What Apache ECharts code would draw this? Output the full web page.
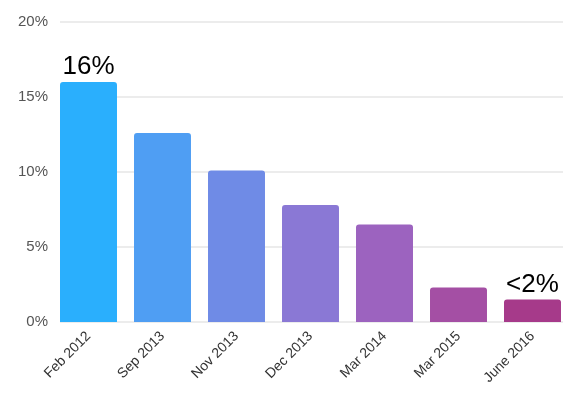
<!DOCTYPE html>
<html>
<head>
<meta charset="utf-8">
<script src="https://cdn.jsdelivr.net/npm/echarts@6/dist/echarts.min.js"></script>
<style>
  html, body { margin: 0; padding: 0; background: #fff; }
  #chart { width: 579px; height: 397px; }
</style>
</head>
<body>
<div id="chart"></div>
<script>
const categories = ['Feb 2012', 'Sep 2013', 'Nov 2013', 'Dec 2013', 'Mar 2014', 'Mar 2015', 'June 2016']
const shares = [16.0, 12.6, 10.1, 7.8, 6.5, 2.3, 1.5]
const barLabels = ['16%', '', '', '', '', '', '<2%']
const barColors = ['#2AAFFD', '#4F9EF3', '#6F8BE6', '#8A78D5', '#9C63BF', '#A44FA4', '#A63A8A']
const yTicks = [0, 5, 10, 15, 20]

const font = '"Liberation Sans", Arial, sans-serif'
const chart = echarts.init(document.getElementById('chart'))

const option = {
  animation: false,
  textStyle: { fontFamily: font },
  // grid 0: gridlines + y labels; grid 1: bars, edge to edge
  grid: [
    { left: 60, right: 16, top: 22, bottom: 75 },
    { left: 51.5, right: 9.5, top: 22, bottom: 75 }
  ],
  xAxis: [
    { type: 'category', gridIndex: 0, data: categories, show: false },
    {
      type: 'category',
      gridIndex: 1,
      data: categories,
      axisLine: { show: false },
      axisTick: { show: false },
      axisLabel: {
        rotate: 45,
        fontFamily: font,
        fontSize: 14,
        color: '#333',
        margin: 12,
        interval: 0
      }
    }
  ],
  yAxis: [
    {
      type: 'value',
      gridIndex: 0,
      min: yTicks[0],
      max: yTicks[yTicks.length - 1],
      interval: 5,
      axisLine: { show: false },
      axisTick: { show: false },
      axisLabel: {
        fontFamily: font,
        fontSize: 15,
        color: '#555',
        margin: 12,
        formatter: '{value}%'
      },
      splitLine: { lineStyle: { color: '#e6e6e6', width: 1.5 } }
    },
    {
      type: 'value',
      gridIndex: 1,
      min: yTicks[0],
      max: yTicks[yTicks.length - 1],
      interval: 5,
      show: false,
      splitLine: { show: false }
    }
  ],
  series: [
    {
      type: 'bar',
      xAxisIndex: 1,
      yAxisIndex: 1,
      barCategoryGap: '23%',
      data: shares.map((v, i) => ({
        value: v,
        itemStyle: { color: barColors[i], borderRadius: [3, 3, 0, 0] }
      })),
      label: {
        show: true,
        position: 'top',
        distance: 2,
        fontFamily: font,
        fontSize: 26,
        color: '#000',
        formatter: p => barLabels[p.dataIndex]
      }
    }
  ]
}

chart.setOption(option)
</script>
</body>
</html>
